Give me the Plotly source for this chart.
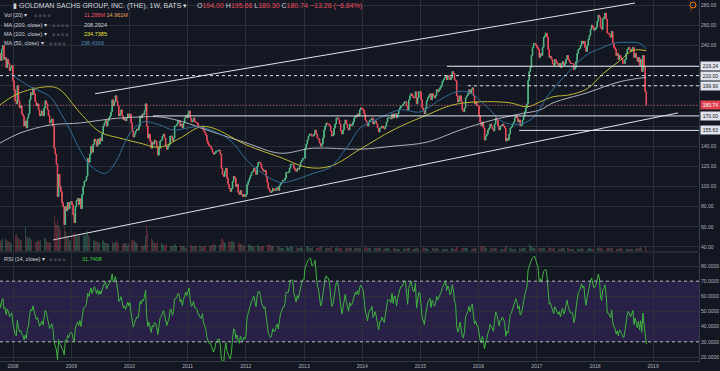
import numpy as np
import pandas as pd
import plotly.graph_objects as go

# ---------------- data (weekly bars, Monday-dated) ----------------
first_bar = "2007-07-02"
closes_2007q3 = [218, 222, 220, 205, 198, 182, 176, 180, 185, 180, 192, 208, 216, 228]
closes_2007 = [232, 225, 236, 240, 226, 228, 218, 226, 222, 215, 218, 220, 205]
closes_2008 = [196, 185, 182, 200, 185, 178, 180, 172, 170, 160, 165, 158, 168,
               172, 186, 193, 191, 198, 192, 184, 180, 182, 176, 170, 172, 175,
               170, 178, 185, 182, 176, 170, 163, 165, 167, 160, 138, 132, 122,
               90, 112, 100, 95, 84, 80, 62, 80, 76, 84, 78, 84, 85]
closes_2009 = [82, 72, 64, 80, 86, 88, 82, 88, 78, 92, 100, 105, 106,
               110, 128, 124, 132, 140, 134, 142, 147, 145, 140, 147, 142, 148,
               145, 152, 160, 163, 166, 160, 165, 168, 170, 174, 186, 180, 184,
               190, 185, 180, 170, 172, 176, 170, 166, 168, 165, 168, 172, 169]
closes_2010 = [172, 163, 155, 149, 152, 155, 157, 156, 160, 170, 168, 172, 171,
               175, 182, 160, 148, 152, 145, 138, 144, 142, 146, 145, 140, 131,
               138, 145, 146, 150, 152, 148, 140, 137, 140, 142, 150, 150, 145,
               148, 160, 160, 162, 165, 165, 160, 162, 158, 163, 168, 170, 168]
closes_2011 = [172, 175, 168, 164, 165, 168, 164, 164, 163, 160, 160, 158, 158,
               160, 155, 153, 151, 145, 142, 140, 140, 137, 134, 132, 133, 135,
               135, 136, 136, 132, 118, 112, 110, 115, 118, 108, 102, 98, 95,
               98, 105, 110, 108, 100, 102, 94, 92, 96, 92, 90, 92, 90]
closes_2012 = [92, 102, 105, 108, 111, 114, 115, 118, 115, 112, 120, 124, 124,
               122, 118, 116, 115, 116, 110, 104, 98, 96, 94, 95, 98, 96,
               96, 98, 99, 96, 101, 103, 104, 106, 106, 108, 114, 114, 114,
               118, 122, 122, 122, 118, 116, 115, 118, 117, 120, 124, 126, 128, 128]
closes_2013 = [138, 142, 146, 150, 152, 152, 150, 150, 152, 156, 152, 148, 147,
               143, 140, 142, 148, 156, 160, 163, 162, 162, 160, 155, 150, 151,
               158, 162, 168, 168, 166, 162, 155, 152, 156, 162, 166, 162, 158,
               156, 162, 160, 161, 164, 168, 170, 169, 172, 170, 176, 178, 177]
closes_2014 = [176, 172, 166, 164, 160, 164, 166, 166, 168, 162, 164, 165, 162,
               158, 154, 158, 158, 160, 158, 157, 160, 164, 168, 168, 168, 167,
               172, 168, 172, 172, 168, 172, 176, 178, 180, 180, 182, 184, 184,
               180, 176, 186, 190, 192, 190, 188, 188, 194, 182, 188, 194, 194]
closes_2015 = [186, 178, 175, 172, 178, 185, 188, 190, 192, 186, 192, 190, 188,
               190, 196, 194, 196, 198, 200, 204, 206, 208, 210, 206, 210, 209,
               206, 208, 214, 212, 206, 205, 190, 184, 186, 190, 184, 176, 174,
               178, 188, 190, 192, 196, 192, 196, 198, 190, 182, 184, 180, 180]
closes_2016 = [170, 164, 160, 164, 158, 146, 150, 152, 156, 158, 162, 160, 157,
               155, 162, 168, 166, 160, 156, 160, 160, 162, 160, 158, 145, 148,
               146, 152, 158, 159, 162, 164, 168, 170, 168, 164, 166, 160, 161,
               166, 170, 174, 178, 182, 205, 214, 218, 230, 238, 242, 242, 240]
closes_2017 = [238, 236, 228, 232, 230, 238, 248, 250, 252, 248, 236, 228, 229,
               226, 222, 220, 226, 224, 222, 220, 222, 218, 222, 224, 220, 222,
               226, 230, 226, 224, 222, 222, 222, 216, 218, 224, 232, 236, 237,
               240, 244, 242, 244, 238, 234, 240, 246, 250, 256, 260, 258, 255]
closes_2018 = [256, 258, 264, 270, 268, 258, 256, 266, 268, 272, 266, 252, 252,
               250, 248, 254, 242, 238, 236, 230, 232, 226, 230, 228, 226, 222,
               222, 226, 232, 236, 238, 236, 234, 236, 238, 228, 232, 228, 224,
               228, 220, 226, 214, 230, 219, 194.00, 180.74]

# weekly volume, millions of shares
vol_2007q3 = [40, 42, 45, 50, 70, 80, 60, 45, 40, 38, 42, 45, 40, 42]
vol_2007 = [45, 50, 48, 55, 60, 58, 52, 48, 45, 42, 40, 30, 45]
vol_2008 = [70, 75, 80, 65, 60, 55, 50, 52, 60, 90, 110, 70, 65,
            55, 65, 60, 50, 48, 45, 40, 42, 45, 50, 48, 52, 50,
            55, 60, 58, 45, 40, 42, 38, 35, 45, 80, 160, 130, 120,
            140, 120, 110, 95, 90, 100, 110, 90, 75, 70, 65, 45, 50]
vol_2009 = [70, 80, 85, 75, 70, 65, 80, 75, 85, 95, 80, 70, 75,
            80, 90, 75, 65, 60, 55, 50, 48, 45, 42, 44, 40, 38,
            40, 45, 50, 42, 38, 36, 35, 34, 36, 38, 40, 38, 35,
            40, 45, 42, 38, 35, 33, 32, 30, 35, 38, 32, 25, 30]
vol_2010 = [40, 45, 55, 50, 45, 40, 35, 32, 30, 28, 26, 25, 24,
            28, 70, 120, 90, 80, 70, 60, 50, 40, 38, 36, 35, 45,
            40, 50, 35, 30, 28, 26, 25, 30, 25, 24, 23, 22, 24,
            25, 30, 28, 24, 22, 24, 26, 22, 22, 24, 20, 15, 16]
vol_2011 = [25, 28, 30, 24, 22, 20, 22, 24, 22, 25, 24, 22, 20,
            20, 22, 25, 24, 26, 28, 25, 24, 26, 28, 30, 28, 26,
            24, 25, 28, 30, 55, 60, 45, 40, 38, 42, 45, 40, 42,
            45, 48, 40, 38, 42, 38, 40, 36, 34, 30, 28, 22, 25]
vol_2012 = [28, 32, 30, 28, 26, 25, 22, 20, 22, 24, 26, 22, 20,
            20, 22, 24, 22, 20, 24, 26, 28, 30, 26, 24, 22, 24,
            22, 20, 22, 20, 18, 16, 15, 14, 15, 20, 22, 18, 16,
            18, 20, 22, 18, 12, 16, 18, 15, 14, 16, 15, 18, 14, 12]
vol_2013 = [20, 24, 22, 18, 16, 15, 16, 17, 15, 14, 16, 15, 14,
            18, 22, 20, 16, 15, 14, 16, 15, 14, 16, 18, 20, 16,
            14, 16, 18, 14, 12, 13, 14, 12, 12, 14, 15, 14, 13,
            14, 18, 16, 14, 13, 12, 14, 12, 13, 14, 15, 12, 10]
vol_2014 = [14, 16, 18, 17, 16, 14, 13, 12, 13, 14, 15, 14, 13,
            16, 18, 15, 13, 12, 11, 12, 11, 12, 13, 12, 11, 12,
            11, 14, 12, 11, 12, 10, 9, 9, 10, 11, 12, 11, 10,
            14, 16, 14, 12, 11, 10, 10, 9, 12, 14, 13, 9, 8]
vol_2015 = [14, 16, 18, 14, 13, 12, 11, 11, 12, 14, 13, 12, 11,
            12, 14, 12, 11, 10, 11, 10, 9, 10, 11, 10, 11, 12,
            13, 14, 12, 11, 10, 11, 18, 20, 16, 14, 15, 13, 14,
            15, 16, 13, 12, 11, 10, 11, 10, 12, 14, 15, 10, 9]
vol_2016 = [18, 20, 22, 18, 22, 24, 16, 14, 15, 14, 13, 12, 11,
            12, 16, 14, 12, 11, 10, 11, 10, 10, 11, 12, 22, 18,
            14, 12, 13, 11, 10, 9, 9, 9, 12, 13, 12, 11, 12,
            12, 13, 15, 12, 14, 38, 30, 24, 22, 20, 16, 12, 10]
vol_2017 = [16, 15, 14, 13, 14, 15, 13, 12, 16, 15, 18, 16, 13,
            12, 14, 15, 12, 11, 12, 13, 11, 11, 12, 14, 12, 13,
            11, 12, 13, 11, 11, 10, 9, 10, 11, 12, 13, 11, 10,
            11, 12, 12, 11, 12, 11, 10, 13, 14, 12, 11, 10, 8]
vol_2018 = [12, 14, 15, 13, 18, 16, 12, 11, 13, 12, 14, 13, 12,
            12, 14, 13, 12, 11, 10, 11, 10, 11, 12, 13, 12, 11,
            10, 12, 13, 11, 10, 10, 9, 9, 10, 12, 11, 13, 11,
            12, 16, 18, 15, 17, 14, 22, 11.288]

# moving averages
ma200_dates = ["2007-10-11", "2008-02-14", "2008-08-20", "2009-02-25", "2009-09-01", "2010-03-08",
               "2010-07-11", "2010-11-14", "2011-06-09", "2012-01-08", "2012-08-03", "2013-02-27",
               "2013-12-19", "2014-07-13", "2015-02-12", "2015-09-07", "2016-04-01", "2016-09-18",
               "2017-01-22", "2017-04-13", "2017-11-13", "2018-06-08", "2018-11-19"]
ma200_vals = [143, 153, 161, 163, 167, 169, 169, 165, 154, 143, 133, 138,
              137, 140, 144, 156, 166, 172, 176, 183, 193, 204, 208.29]
ma100_dates = ["2007-10-11", "2008-02-14", "2008-08-20", "2008-10-22", "2009-02-25", "2009-06-30",
               "2009-11-02", "2010-03-08", "2010-07-11", "2010-11-14", "2011-03-19", "2011-06-09",
               "2012-01-08", "2012-08-03", "2013-01-20", "2013-06-13", "2013-12-19", "2014-07-13",
               "2015-02-12", "2015-07-24", "2016-01-10", "2016-07-17", "2016-11-01", "2017-01-22",
               "2017-04-13", "2017-07-28", "2017-11-13", "2018-02-21", "2018-06-08", "2018-08-27",
               "2018-11-19"]
ma100_vals = [181, 193, 199, 196, 173, 154, 148, 143, 139, 148, 159, 158,
              141, 129, 119, 120, 137, 156, 171, 181, 184, 183, 179, 184,
              189, 191, 197, 212, 225, 235, 234.74]
ma50_dates = ["2007-12-13", "2008-04-17", "2008-08-20", "2008-10-22", "2008-12-24", "2009-02-25",
              "2009-04-28", "2009-07-31", "2009-10-02", "2010-01-05", "2010-03-27", "2010-07-11",
              "2010-10-01", "2011-03-19", "2011-09-23", "2012-01-08", "2012-04-17", "2012-08-03",
              "2012-10-23", "2013-02-27", "2013-06-13", "2013-09-28", "2013-12-19", "2014-04-22",
              "2014-08-26", "2014-12-30", "2015-05-04", "2015-08-18", "2015-11-08", "2016-02-23",
              "2016-06-03", "2016-09-18", "2016-12-08", "2017-03-07", "2017-06-15", "2017-09-11",
              "2017-11-13", "2018-02-21", "2018-04-24", "2018-07-21", "2018-10-10", "2018-11-19"]
ma50_vals = [212, 199, 189, 174, 156, 136, 121, 113, 123, 153, 164, 161,
             156, 159, 146, 126, 113, 104, 106, 113, 119, 139, 158, 168,
             176, 174, 186, 194, 193, 179, 164, 162, 168, 189, 208, 222,
             231, 238, 242, 243, 242, 236.42]

# drawings
upper_channel_dates = ["2009-05-30", "2018-09-09"]
upper_channel_prices = [192, 282]
lower_channel_dates = ["2008-09-08", "2019-06-06"]
lower_channel_prices = [47, 173]
level_prices = [219.24, 210.00, 199.90, 170.00, 155.63]
level_starts = ["2015-06-17", "2007-10-11", "2015-10-27", "2010-05-28", "2016-09-12"]
last_price = 180.74

legend_ohlc = ["194.00", "195.66", "180.30", "180.74", "−13.26 (−6.84%)"]
legend_vol = ["11.288M", "14.961M"]
legend_ma = ["208.2924", "234.7385", "236.4166"]
legend_rsi = "31.7408"

# ---------------- derived series ----------------
closes = np.array(closes_2007q3 + closes_2007 + closes_2008 + closes_2009 + closes_2010 + closes_2011 +
                  closes_2012 + closes_2013 + closes_2014 + closes_2015 + closes_2016 + closes_2017 +
                  closes_2018, dtype=float)
volumes = np.array(vol_2007q3 + vol_2007 + vol_2008 + vol_2009 + vol_2010 + vol_2011 + vol_2012 +
                   vol_2013 + vol_2014 + vol_2015 + vol_2016 + vol_2017 + vol_2018, dtype=float)
dates = pd.date_range(first_bar, periods=len(closes), freq="W-MON")
opens = np.r_[closes[0], closes[:-1]]
highs = np.maximum(opens, closes)
lows = np.minimum(opens, closes)

n = 14
delta = np.diff(closes, prepend=closes[0])
gain = np.clip(delta, 0, None)
loss = np.clip(-delta, 0, None)
ag = np.full(len(closes), np.nan)
al = np.full(len(closes), np.nan)
ag[n] = gain[1:n + 1].mean()
al[n] = loss[1:n + 1].mean()
for i in range(n + 1, len(closes)):
    ag[i] = (ag[i - 1] * (n - 1) + gain[i]) / n
    al[i] = (al[i - 1] * (n - 1) + loss[i]) / n
rsi = 100 - 100 / (1 + ag / al)

# ---------------- styling ----------------
BG = "#131722"
GRID = "#2a2e39"
TXT = "#d1d4dc"
AX = "#b2b5be"
UP = "#53b987"
DN = "#eb4d5c"
FONT = "Liberation Sans, Arial, sans-serif"
X0, X1 = "2007-10-11", "2019-10-16"
W, H = 720, 371
PW, PH = 699, 361


def fx(px):
    return px / PW


def fy(py):
    return 1 - py / PH


fig = go.Figure()

vol_colors = np.where(closes >= opens, "rgba(83,185,135,0.3)", "rgba(235,77,92,0.3)")
fig.add_trace(go.Bar(x=dates, y=volumes, marker=dict(color=vol_colors, line=dict(width=0)),
                     width=5 * 86400000, xaxis="x", yaxis="y3", hoverinfo="skip"))

fig.add_trace(go.Scatter(x=ma200_dates, y=ma200_vals, mode="lines", xaxis="x", yaxis="y",
                         line=dict(color="rgba(200,203,210,0.85)", width=1, shape="spline")))
fig.add_trace(go.Scatter(x=ma100_dates, y=ma100_vals, mode="lines", xaxis="x", yaxis="y",
                         line=dict(color="#bdb834", width=1, shape="spline")))
fig.add_trace(go.Scatter(x=ma50_dates, y=ma50_vals, mode="lines", xaxis="x", yaxis="y",
                         line=dict(color="#2f6e98", width=1, shape="spline")))

fig.add_trace(go.Candlestick(x=dates, open=opens, high=highs, low=lows, close=closes,
                             xaxis="x", yaxis="y", whiskerwidth=0,
                             increasing=dict(line=dict(color=UP, width=1), fillcolor=UP),
                             decreasing=dict(line=dict(color=DN, width=1), fillcolor=DN),
                             hoverinfo="skip"))

# drawings
fig.add_trace(go.Scatter(x=upper_channel_dates, y=upper_channel_prices, mode="lines",
                         xaxis="x", yaxis="y", line=dict(color="#e0e3eb", width=1)))
fig.add_trace(go.Scatter(x=lower_channel_dates, y=lower_channel_prices, mode="lines",
                         xaxis="x", yaxis="y", line=dict(color="#e0e3eb", width=1)))
level_dash = ["solid", "3px,3px", "3px,3px", "solid", "solid"]
for p, s, d in zip(level_prices, level_starts, level_dash):
    fig.add_trace(go.Scatter(x=[s, X1], y=[p, p], mode="lines", xaxis="x", yaxis="y",
                             line=dict(color="#e0e3eb", width=1, dash=d)))
fig.add_trace(go.Scatter(x=[X0, X1], y=[last_price, last_price], mode="lines", xaxis="x", yaxis="y",
                         line=dict(color="rgba(235,77,92,0.7)", width=1, dash="1px,2px")))

# RSI
fig.add_trace(go.Scatter(x=dates, y=rsi, mode="lines", xaxis="x2", yaxis="y2",
                         line=dict(color="#3fb33f", width=1)))

shapes = [
    dict(type="rect", xref="x2 domain", yref="y2", x0=0, x1=1, y0=30, y1=70,
         fillcolor="rgba(120,70,200,0.22)", line=dict(width=0), layer="below"),
    dict(type="line", xref="x2 domain", yref="y2", x0=0, x1=1, y0=70, y1=70,
         line=dict(color="#b8b8c8", width=1, dash="3px,3px")),
    dict(type="line", xref="x2 domain", yref="y2", x0=0, x1=1, y0=30, y1=30,
         line=dict(color="#b8b8c8", width=1, dash="3px,3px")),
    dict(type="line", xref="paper", yref="paper", x0=0, x1=1, y0=fy(252), y1=fy(252),
         line=dict(color="#363a45", width=1)),
    dict(type="circle", xref="paper", yref="paper", x0=fx(690), x1=fx(696), y0=fy(8), y1=fy(2),
         line=dict(color="#f57c00", width=1)),
]

ann = []


def txt(px, py, text, size=5.5, color=TXT):
    ann.append(dict(xref="paper", yref="paper", x=fx(px), y=fy(py), text=text, showarrow=False,
                    xanchor="left", yanchor="middle", font=dict(family=FONT, size=size, color=color)))


def red(s):
    return '<span style="color:%s">%s</span>' % (DN, s)


icons = '<span style="color:#434651">■ ■ ■ ■</span>'
txt(11, 6, "▮", 7)
txt(17, 6, "GOLDMAN SACHS GROUP, INC. (THE), 1W, BATS ▾", 7)
txt(195, 6, "O%s H%s L%s C%s %s" % tuple(red(v) for v in legend_ohlc), 7)
txt(2, 15, "Vol (20) ▾")
txt(32, 15, icons, 5)
txt(82, 15, '%s <span style="color:#e8a45c">%s</span>' % (red(legend_vol[0]), legend_vol[1]))
txt(2, 25, "MA (200, close) ▾")
txt(50, 25, icons, 5)
txt(82, 25, legend_ma[0], 5.5, "#d1d4dc")
txt(2, 34, "MA (100, close) ▾")
txt(50, 34, icons, 5)
txt(82, 34, legend_ma[1], 5.5, "#e6e635")
txt(2, 43, "MA (50, close) ▾")
txt(47, 43, icons, 5)
txt(79, 43, legend_ma[2], 5.5, "#4d8fc0")
txt(2, 259, "RSI (14, close) ▾")
txt(47, 259, icons, 5)
txt(80, 259, legend_rsi, 5.5, "#3fd13f")
ann.append(dict(xref="paper", yref="paper", x=fx(693), y=fy(5), text="!", showarrow=False,
                font=dict(family=FONT, size=5, color="#f57c00")))

# price boxes on the right axis
for p in level_prices:
    ann.append(dict(xref="paper", yref="y", x=1, y=p, text="%.2f" % p, showarrow=False,
                    xanchor="left", xshift=1, bgcolor="#e0e3eb", borderpad=1, width=17,
                    font=dict(family=FONT, size=5, color="#131722")))
ann.append(dict(xref="paper", yref="y", x=1, y=last_price, text="%.2f" % last_price, showarrow=False,
                xanchor="left", xshift=1, bgcolor="#e0434f", borderpad=1, width=17,
                font=dict(family=FONT, size=5, color="#ffffff")))

price_ticks = list(range(40, 281, 20))
price_text = ["" if v in (160, 180, 200, 220) else "%.2f" % v for v in price_ticks]
rsi_ticks = list(range(20, 81, 10))

fig.update_layout(
    width=W, height=H, margin=dict(l=0, r=W - PW, t=0, b=H - PH),
    paper_bgcolor=BG, plot_bgcolor=BG, showlegend=False, bargap=0,
    font=dict(family=FONT, color=AX),
    xaxis=dict(domain=[0, 1], anchor="y", range=[X0, X1], type="date", showticklabels=False,
               showgrid=True, gridcolor=GRID, gridwidth=1, dtick="M12", tick0="2008-01-01",
               zeroline=False, ticks="", rangeslider=dict(visible=False)),
    xaxis2=dict(domain=[0, 1], anchor="y2", matches="x", range=[X0, X1], type="date",
                tickformat="%Y", dtick="M12", tick0="2008-01-01", showgrid=True, gridcolor=GRID,
                tickfont=dict(size=5, color=AX), ticks="", zeroline=False,
                showline=True, linecolor="#363a45", rangeslider=dict(visible=False)),
    yaxis=dict(domain=[fy(251), 1], anchor="x", side="right", range=[36, 285],
               tickvals=price_ticks, ticktext=price_text, tickfont=dict(size=5, color=AX),
               showgrid=True, gridcolor=GRID, zeroline=False, ticks="",
               showline=True, linecolor="#363a45"),
    yaxis2=dict(domain=[0, fy(253)], anchor="x2", side="right", range=[17.36, 88.57],
                tickvals=rsi_ticks, ticktext=["%.4f" % v for v in rsi_ticks],
                tickfont=dict(size=5, color=AX), showgrid=True, gridcolor=GRID,
                zeroline=False, ticks="", showline=True, linecolor="#363a45"),
    yaxis3=dict(overlaying="y", anchor="x", range=[0, 1150], visible=False, showgrid=False),
    shapes=shapes, annotations=ann,
)

fig.write_html("out.html", config={"displayModeBar": False})

# remove the browser's default page margin so the figure sits at the window's corner
with open("out.html", encoding="utf-8") as f:
    page = f.read()
page = page.replace("<head>", "<head><style>html,body{margin:0;padding:0;overflow:hidden;"
                              "background:#131722;}</style>", 1)
with open("out.html", "w", encoding="utf-8") as f:
    f.write(page)
